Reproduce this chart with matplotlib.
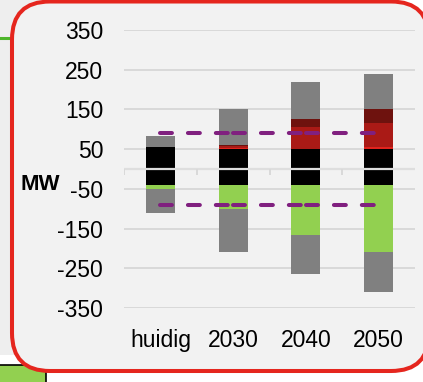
import matplotlib
matplotlib.use("Agg")
import matplotlib.pyplot as plt
import numpy as np
from matplotlib.patches import FancyBboxPatch, Rectangle

plt.rcParams['font.family'] = ['Liberation Sans', 'DejaVu Sans']
plt.rcParams['lines.scale_dashes'] = False

categories = ['huidig', '2030', '2040', '2050']

# opwek (boven nul), MW
pos_black = [55, 50, 50, 50]
pos_brightred = [0, 2.5, 0, 6]
pos_red = [0, 5, 55, 59]
pos_darkred = [0, 2.5, 20, 35]
pos_gray = [27, 90, 95, 90]

# afname (onder nul), MW
neg_black = [-40, -40, -40, -40]
neg_green = [-10, -60, -125, -170]
neg_gray = [-60, -110, -100, -100]

limit_up = [90, 90, 90, 90]
limit_down = [-90, -90, -90, -90]

yticks = [-350, -250, -150, -50, 50, 150, 250, 350]

W, H = 423, 382
fig = plt.figure(figsize=(W / 100, H / 100), dpi=100, facecolor='white')

# achtergrond links van het kader
fig.patches.append(Rectangle((0, 27 / 100), 0.6, 3.55, transform=fig.dpi_scale_trans,
                             facecolor='#EEEEEE', edgecolor='none', zorder=0))
fig.add_artist(plt.Line2D([0, 0.12], [(H - 38) / 100] * 2, transform=fig.dpi_scale_trans,
                          color='#4DB52A', lw=2.2, zorder=1))
fig.patches.append(Rectangle((-0.05, -0.05), 0.51, 0.22, transform=fig.dpi_scale_trans,
                             facecolor='#92D050', edgecolor='black', lw=1.2, zorder=1))

# rood afgerond kader
box = FancyBboxPatch((0.12, 0.11), 4.17, 3.695,
                     boxstyle='round,pad=0,rounding_size=0.38',
                     transform=fig.dpi_scale_trans,
                     facecolor='#F2F2F2', edgecolor='#E5261E', lw=2.9, zorder=2)
fig.patches.append(box)

ax = fig.add_axes([124 / W, 1 - 308 / H, (415 - 124) / W, (308 - 30) / H])
ax.set_facecolor('none')
ax.set_zorder(3)

x = np.arange(len(categories))
bw = 0.4

bottom = np.zeros(len(x))
for vals, col in [(pos_black, '#000000'), (pos_brightred, '#E2231D'),
                  (pos_red, '#AA1A16'), (pos_darkred, '#6E120E'), (pos_gray, '#808080')]:
    ax.bar(x, vals, bw, bottom=bottom, color=col, zorder=2, linewidth=0)
    bottom += np.array(vals)

bottom = np.zeros(len(x))
for vals, col in [(neg_black, '#000000'), (neg_green, '#92D050'), (neg_gray, '#808080')]:
    ax.bar(x, vals, bw, bottom=bottom, color=col, zorder=2, linewidth=0)
    bottom += np.array(vals)

# horizontale as met streepjes tussen de categorieën
ax.axhline(0, color='#DEDEDE', lw=1.6, zorder=3)
ax.vlines([-0.5, 0.5, 1.5, 2.5], -15, 0, color='#D9D9D9', lw=1.4, zorder=3)

# grenslijnen, per segment gestreept
for lim in (limit_up, limit_down):
    for i in range(len(x) - 1):
        ax.plot(x[i:i + 2], lim[i:i + 2], color='#80207F', lw=2.9,
                dashes=(8.6, 11.5), dash_capstyle='round', zorder=4)

ax.set_ylim(-350, 350)
ax.set_xlim(-0.5, 3.5)
ax.set_yticks(yticks)
ax.set_yticklabels([str(v) for v in yticks])
ax.set_xticks(x)
ax.set_xticklabels(categories)
ax.yaxis.grid(True, color='#D9D9D9', lw=1.4, zorder=0)
ax.set_axisbelow(True)
for s in ax.spines.values():
    s.set_visible(False)
ax.tick_params(axis='y', length=0, pad=15, labelsize=16.5)
ax.tick_params(axis='x', length=0, pad=15, labelsize=16.5)

fig.text(40 / W, 1 - 184 / H, 'MW', fontsize=16, fontweight='bold',
         ha='center', va='center', zorder=5)

fig.savefig('out.png', dpi=100, facecolor='white')
